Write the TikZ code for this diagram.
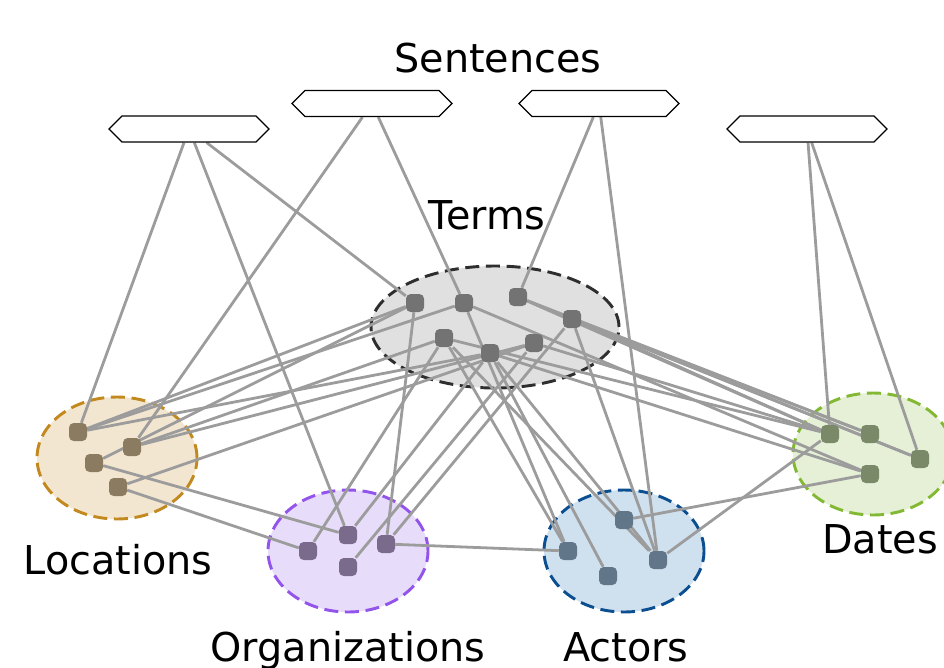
\documentclass[tikz,border=0pt]{standalone}
\usepackage{fontspec}
\setmainfont{DejaVu Sans}
\usetikzlibrary{shapes.symbols,shapes.geometric}
\pgfdeclarelayer{regions}
\pgfdeclarelayer{links}
\pgfsetlayers{regions,links,main}

\definecolor{linkgray}{HTML}{9C9C9C}
\definecolor{termfill}{HTML}{E0E0E0}
\definecolor{termline}{HTML}{2E2E2E}
\definecolor{termdot}{HTML}{737373}
\definecolor{locfill}{HTML}{F3E6D1}
\definecolor{locline}{HTML}{C2891E}
\definecolor{locdot}{HTML}{8A7B61}
\definecolor{orgfill}{HTML}{E7DDFA}
\definecolor{orgline}{HTML}{9254EA}
\definecolor{orgdot}{HTML}{7A6B8C}
\definecolor{actfill}{HTML}{CFE0EF}
\definecolor{actline}{HTML}{0B4F91}
\definecolor{actdot}{HTML}{62768A}
\definecolor{datefill}{HTML}{E5F0D7}
\definecolor{dateline}{HTML}{82B832}
\definecolor{datedot}{HTML}{7A8A69}

\tikzset{
  sentence/.style={signal, signal to=west and east, draw=black, fill=white,
    line width=0.9pt, inner sep=0pt, minimum width=120pt, minimum height=19.5pt},
  region/.style={ellipse, line width=2.2pt, dash pattern=on 10.5pt off 5pt,
    inner sep=0pt, minimum width=120pt, minimum height=91.5pt},
  item/.style={rectangle, rounded corners=3.5pt, inner sep=0pt, minimum size=13.5pt},
  link/.style={draw=linkgray, line width=2.1pt},
  caption/.style={anchor=base, font=\fontsize{29.8}{36}\selectfont, inner sep=0pt}
}

\begin{document}
\begin{tikzpicture}[x=0.75pt,y=-0.75pt]
\useasboundingbox (0,0) rectangle (944,667);
\clip (0,0) rectangle (944,667);

% group regions
\begin{pgfonlayer}{regions}
  \node[region, draw=termline, fill=termfill, minimum width=186pt] (terms) at (495,327) {};
  \node[region, draw=locline, fill=locfill] (locs) at (117,458) {};
  \node[region, draw=orgline, fill=orgfill] (orgs) at (348,551) {};
  \node[region, draw=actline, fill=actfill] (acts) at (624,551) {};
  \node[region, draw=dateline, fill=datefill] (dates) at (873,454) {};
\end{pgfonlayer}

% sentences
\node[sentence] (s1) at (189,129) {};
\node[sentence] (s2) at (372,103.5) {};
\node[sentence] (s3) at (599,103.5) {};
\node[sentence] (s4) at (807,129) {};

% terms
\node[item, fill=termdot] (t1) at (415,303) {};
\node[item, fill=termdot] (t2) at (464,303) {};
\node[item, fill=termdot] (t3) at (518,297) {};
\node[item, fill=termdot] (t4) at (572,319) {};
\node[item, fill=termdot] (t5) at (444,338) {};
\node[item, fill=termdot] (t6) at (534,343) {};
\node[item, fill=termdot] (t7) at (490,353) {};

% locations
\node[item, fill=locdot] (l1) at (78,432) {};
\node[item, fill=locdot] (l2) at (132,447) {};
\node[item, fill=locdot] (l3) at (94,463) {};
\node[item, fill=locdot] (l4) at (118,487) {};

% organizations
\node[item, fill=orgdot] (o1) at (348,535) {};
\node[item, fill=orgdot] (o2) at (308,551) {};
\node[item, fill=orgdot] (o3) at (386,544) {};
\node[item, fill=orgdot] (o4) at (348,567) {};

% actors
\node[item, fill=actdot] (a1) at (624,520) {};
\node[item, fill=actdot] (a2) at (568,551) {};
\node[item, fill=actdot] (a3) at (658,560) {};
\node[item, fill=actdot] (a4) at (608,576) {};

% dates
\node[item, fill=datedot] (d1) at (830,434) {};
\node[item, fill=datedot] (d2) at (870,434) {};
\node[item, fill=datedot] (d3) at (920,459) {};
\node[item, fill=datedot] (d4) at (870,474) {};

% captions
\node[caption] (capS) at (498,73) {Sentences};
\node[caption] (capT) at (487,229) {Terms};
\node[caption] (capL) at (118,574) {Locations};
\node[caption] (capO) at (348,661) {Organizations};
\node[caption] (capA) at (626,661) {Actors};
\node[caption] (capD) at (880,553) {Dates};

% links
\begin{pgfonlayer}{links}
  % sentences to mentions
  \draw[link] (s1) -- (l1);
  \draw[link] (s1) -- (o1);
  \draw[link] (s1) -- (t1);
  \draw[link] (s2) -- (l2);
  \draw[link] (s2) -- (t2);
  \draw[link] (s3) -- (t3);
  \draw[link] (s3) -- (a3);
  \draw[link] (s4) -- (d1);
  \draw[link] (s4) -- (d3);
  % locations
  \draw[link] (l1) -- (t1);
  \draw[link] (l1) -- (t2);
  \draw[link] (l1) -- (t7);
  \draw[link] (l2) -- (t5);
  \draw[link] (l2) -- (t6);
  \draw[link] (l3) -- (t1);
  \draw[link] (l3) -- (o1);
  \draw[link] (l4) -- (t6);
  \draw[link] (l4) -- (o2);
  % organizations
  \draw[link] (o1) -- (t7);
  \draw[link] (o2) -- (t5);
  \draw[link] (o3) -- (t1);
  \draw[link] (o3) -- (t4);
  \draw[link] (o3) -- (a2);
  \draw[link] (o4) -- (t6);
  % actors
  \draw[link] (a2) -- (t2);
  \draw[link] (a2) -- (t5);
  \draw[link] (a4) -- (t7);
  \draw[link] (a3) -- (t5);
  \draw[link] (a3) -- (t7);
  \draw[link] (a3) -- (t4);
  \draw[link] (a3) -- (d1);
  \draw[link] (a1) -- (d4);
  % dates
  \draw[link] (t3) -- (d1);
  \draw[link] (t3) -- (d2);
  \draw[link] (t3) -- (d3);
  \draw[link] (t4) -- (d1);
  \draw[link] (t4) -- (d2);
  \draw[link] (t4) -- (d3);
  \draw[link] (t5) -- (d1);
  \draw[link] (t6) -- (d1);
  \draw[link] (t2) -- (d4);
  \draw[link] (t7) -- (d4);
\end{pgfonlayer}
\end{tikzpicture}
\end{document}
